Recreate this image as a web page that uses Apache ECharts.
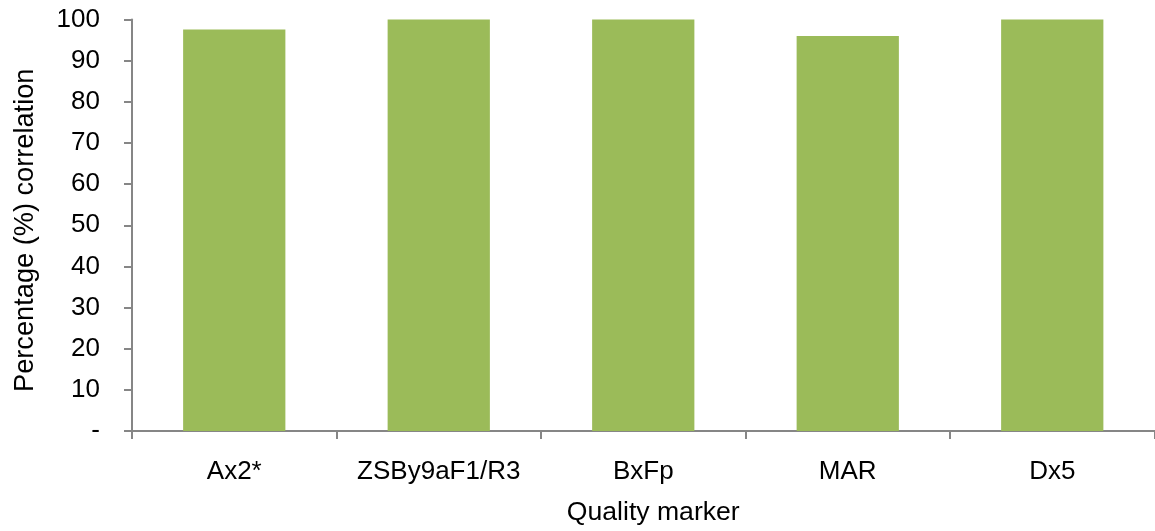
<!DOCTYPE html>
<html>
<head>
<meta charset="utf-8">
<script src="https://cdn.jsdelivr.net/npm/echarts@6/dist/echarts.min.js"></script>
<style>
  html, body { margin: 0; padding: 0; background: #ffffff; }
  #chart { width: 1155px; height: 531px; }
</style>
</head>
<body>
<div id="chart"></div>
<script>
// Quality markers and the percentage correlation for each
const markers = ['Ax2*', 'ZSBy9aF1/R3', 'BxFp', 'MAR', 'Dx5'];
const correlation = [97.6, 100, 100, 96, 100];

const FONT = '"Liberation Sans", Arial, Helvetica, sans-serif';
const AXIS_GREY = '#868686';

const chart = echarts.init(document.getElementById('chart'), null, { renderer: 'canvas' });

chart.setOption({
  animation: false,
  backgroundColor: '#ffffff',
  grid: { left: 132, right: 0.5, top: 19.5, bottom: 98, containLabel: false },
  xAxis: {
    type: 'category',
    data: markers,
    name: 'Quality marker',
    nameLocation: 'middle',
    nameGap: 68,
    nameTextStyle: { fontFamily: FONT, fontSize: 26.6, color: '#000', padding: [0, 0, 0, 20] },
    axisLine: { lineStyle: { color: AXIS_GREY, width: 2 } },
    axisTick: { show: true, alignWithLabel: false, length: 8, lineStyle: { color: AXIS_GREY, width: 2 } },
    axisLabel: { interval: 0, fontFamily: FONT, fontSize: 26, color: '#000', margin: 28 },
    splitLine: { show: false }
  },
  yAxis: {
    type: 'value',
    min: 0,
    max: 100,
    interval: 10,
    name: 'Percentage (%) correlation',
    nameLocation: 'middle',
    nameGap: 93,
    nameRotate: 90,
    nameTextStyle: { fontFamily: FONT, fontSize: 27.2, color: '#000', padding: [0, 10, 0, 0] },
    axisLine: { show: true, lineStyle: { color: AXIS_GREY, width: 2 } },
    axisTick: { show: true, length: 8, lineStyle: { color: AXIS_GREY, width: 2 } },
    axisLabel: {
      fontFamily: FONT, fontSize: 26, color: '#000', margin: 32,
      formatter: v => (v === 0 ? '-' : String(v))
    },
    splitLine: { show: false }
  },
  series: [{
    type: 'bar',
    data: correlation,
    barCategoryGap: '50%',
    itemStyle: { color: '#9BBB59' }
  }]
});
</script>
</body>
</html>
